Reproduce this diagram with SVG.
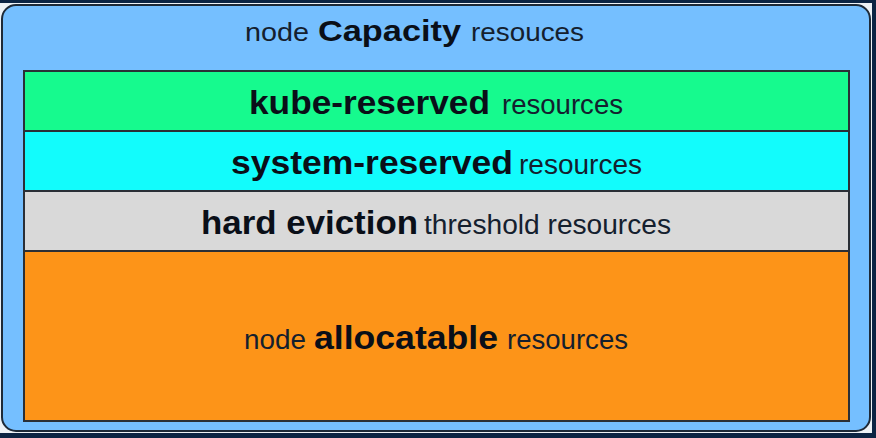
<svg xmlns="http://www.w3.org/2000/svg" width="876" height="438" viewBox="0 0 876 438">
<style>
.band{stroke:#2a2f36;stroke-width:2}
.b{font-family:"Liberation Sans",Arial,sans-serif;font-weight:bold;fill:#0a0f18}
.r{font-family:"Liberation Sans",Arial,sans-serif;fill:#14202e}
</style>
<rect x="0" y="0" width="876" height="438" fill="#eef2f6"/>
<rect x="0" y="0" width="876" height="3" fill="#0c2443"/>
<rect x="0" y="433" width="876" height="5" fill="#0c2443"/>
<rect x="872" y="0" width="4" height="438" fill="#0c2443"/>
<g id="capacity">
<rect x="2" y="5" width="868" height="426" rx="14" fill="#75bfff" stroke="#1e2a38" stroke-width="2"/>
<text class="r" x="245" y="41" font-size="26" textLength="64" lengthAdjust="spacingAndGlyphs">node</text>
<text class="b" x="318" y="41" font-size="30" textLength="143" lengthAdjust="spacingAndGlyphs">Capacity</text>
<text class="r" x="471" y="41" font-size="26" textLength="113" lengthAdjust="spacingAndGlyphs">resouces</text>
</g>
<g id="kube-reserved">
<rect class="band" x="24" y="71" width="825" height="60" fill="#16fa8e"/>
<text class="b" x="249" y="114" font-size="33" textLength="241" lengthAdjust="spacingAndGlyphs">kube-reserved</text>
<text class="r" x="502" y="114" font-size="27" textLength="121" lengthAdjust="spacingAndGlyphs">resources</text>
</g>
<g id="system-reserved">
<rect class="band" x="24" y="131" width="825" height="60" fill="#12fcfc"/>
<text class="b" x="231" y="174" font-size="33" textLength="282" lengthAdjust="spacingAndGlyphs">system-reserved</text>
<text class="r" x="519" y="174" font-size="27" textLength="123" lengthAdjust="spacingAndGlyphs">resources</text>
</g>
<g id="hard-eviction">
<rect class="band" x="24" y="191" width="825" height="60" fill="#d9d9d9"/>
<text class="b" x="201" y="234" font-size="33" textLength="217" lengthAdjust="spacingAndGlyphs">hard eviction</text>
<text class="r" x="424" y="234" font-size="27" textLength="247" lengthAdjust="spacingAndGlyphs">threshold resources</text>
</g>
<g id="allocatable">
<rect class="band" x="24" y="251" width="825" height="170" fill="#fd9418"/>
<text class="r" x="244" y="349" font-size="27" textLength="62" lengthAdjust="spacingAndGlyphs">node</text>
<text class="b" x="314" y="349" font-size="33" textLength="184" lengthAdjust="spacingAndGlyphs">allocatable</text>
<text class="r" x="507" y="349" font-size="27" textLength="121" lengthAdjust="spacingAndGlyphs">resources</text>
</g>
<g id="connectors"/>
</svg>
